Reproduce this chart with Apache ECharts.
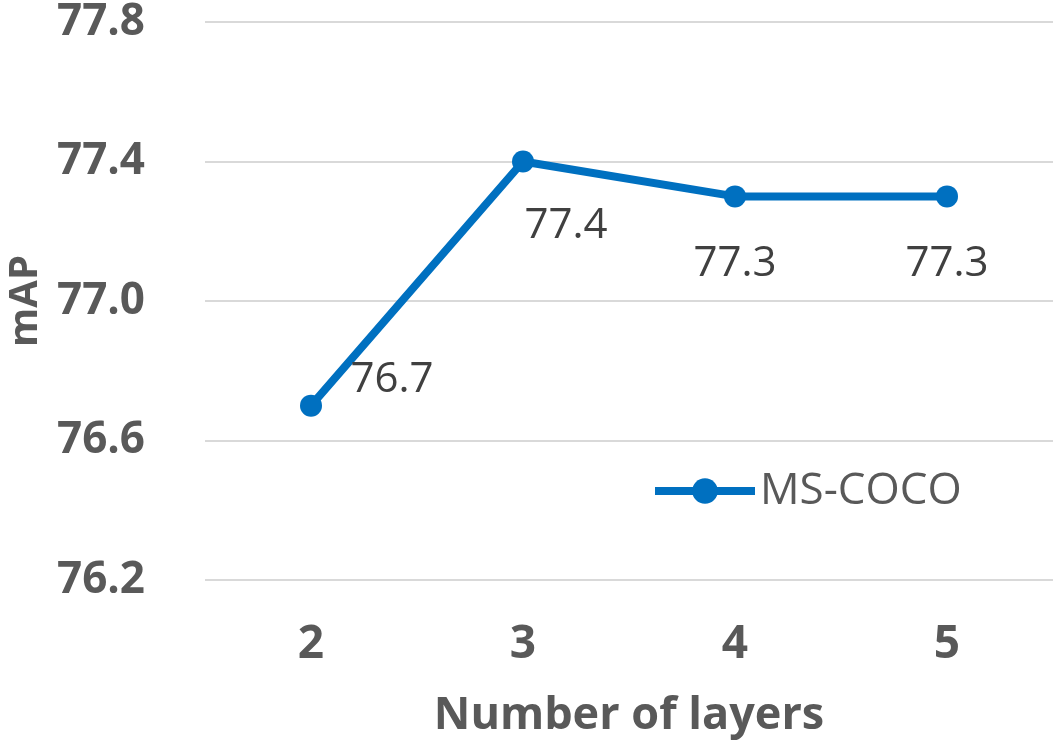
<!DOCTYPE html>
<html>
<head>
<meta charset="utf-8">
<script src="https://cdn.jsdelivr.net/npm/echarts@6/dist/echarts.min.js"></script>
<style>
html,body{margin:0;padding:0;background:#fff;}
#chart{width:1054px;height:747px;}
</style>
</head>
<body>
<div id="chart"></div>
<script>
const categories = ['2', '3', '4', '5'];
const seriesName = 'MS-COCO';
const values = [76.7, 77.4, 77.3, 77.3];
const labelOffsets = [[81, -26], [43, 65], [0, 68], [0, 68]];
const yMin = 76.2, yMax = 77.8, yInterval = 0.4;

const chart = echarts.init(document.getElementById('chart'));
chart.setOption({
  animation: false,
  backgroundColor: '#ffffff',
  grid: { left: 205, right: 1, top: 22, bottom: 167, containLabel: false, outerBoundsMode: 'none' },
  legend: {
    data: [seriesName],
    left: 646, top: 464,
    itemWidth: 100, itemHeight: 32, itemGap: 8,
    lineStyle: { width: 8 },
    textStyle: { fontFamily: 'Open Sans', fontSize: 44, color: '#595959', padding: [0,0,0,0] }
  },
  xAxis: {
    type: 'category',
    data: categories,
    boundaryGap: true,
    axisLine: { show: false },
    axisTick: { show: false },
    axisLabel: { fontFamily: 'Open Sans', fontWeight: 'bold', fontSize: 46, color: '#595959', margin: 42 },
    name: 'Number of layers',
    nameLocation: 'middle',
    nameGap: 114,
    nameTextStyle: { fontFamily: 'Open Sans', fontWeight: 'bold', fontSize: 45, color: '#595959' }
  },
  yAxis: {
    type: 'value',
    min: yMin, max: yMax, interval: yInterval,
    axisLine: { show: false },
    axisTick: { show: false },
    splitLine: { lineStyle: { color: '#d9d9d9', width: 2 } },
    axisLabel: { fontFamily: 'Open Sans', fontWeight: 'bold', fontSize: 44, color: '#595959', margin: 60,
      formatter: v => v.toFixed(1) },
    name: 'mAP',
    nameLocation: 'middle',
    nameGap: 157,
    nameRotate: 90,
    nameTextStyle: { fontFamily: 'Open Sans', fontWeight: 'bold', fontSize: 40, color: '#595959' }
  },
  series: [{
    name: seriesName,
    type: 'line',
    data: values.map((v, i) => ({
      value: v,
      label: { offset: labelOffsets[i] }
    })),
    symbol: 'circle',
    symbolSize: 22,
    lineStyle: { color: '#0070C0', width: 8 },
    itemStyle: { color: '#0070C0' },
    label: {
      show: true,
      position: 'inside',
      fontFamily: 'Open Sans',
      fontSize: 42,
      color: '#404040',
      formatter: p => p.value.toFixed(1)
    }
  }]
});
</script>
</body>
</html>
